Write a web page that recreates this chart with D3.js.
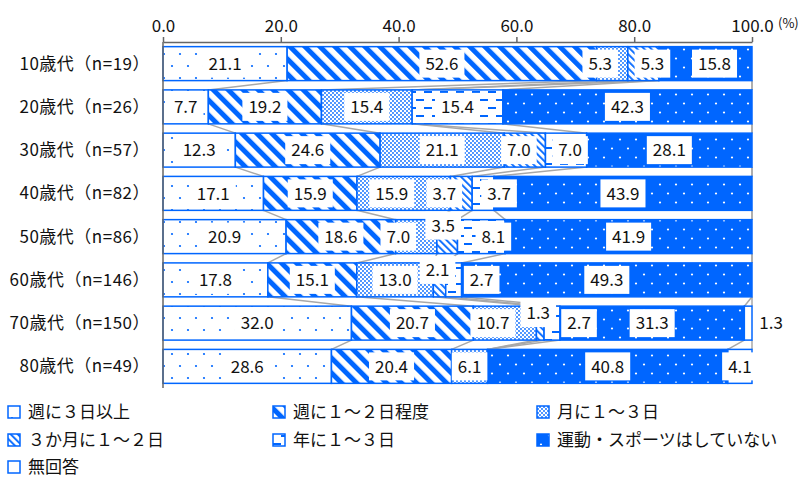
<!DOCTYPE html>
<html>
<head>
<meta charset="utf-8">
<script src="https://cdn.jsdelivr.net/npm/d3@7"></script>
<style>
body { margin: 0; background: #fff; }
text { font-family: "Noto Sans CJK JP", "Noto Sans", sans-serif; }
</style>
</head>
<body>
<svg id="chart" width="808" height="479"></svg>
<script>
// categories (age groups) and the 7 answer series, in stacking order
const categories = ['10歳代（n=19）', '20歳代（n=26）', '30歳代（n=57）', '40歳代（n=82）',
    '50歳代（n=86）', '60歳代（n=146）', '70歳代（n=150）', '80歳代（n=49）'];
const seriesNames = ['週に３日以上', '週に１～２日程度', '月に１～３日', '３か月に１～２日',
    '年に１～３日', '運動・スポーツはしていない', '無回答'];

const shukan3 = [21.1, 7.7, 12.3, 17.1, 20.9, 17.8, 32.0, 28.6];
const shukan12 = [52.6, 19.2, 24.6, 15.9, 18.6, 15.1, 20.7, 20.4];
const tsuki13 = [5.3, 15.4, 21.1, 15.9, 7.0, 13.0, 10.7, 6.1];
const sankagetsu = [5.3, 0, 7.0, 3.7, 3.5, 2.1, 1.3, 0];
const nen13 = [0, 15.4, 7.0, 3.7, 8.1, 2.7, 2.7, 0];
const shinai = [15.8, 42.3, 28.1, 43.9, 41.9, 49.3, 31.3, 40.8];
const mukaitou = [0, 0, 0, 0, 0, 0, 1.3, 4.1];

const xTicks = [0, 20, 40, 60, 80, 100];

// label nudges for crowded segments: 'row|series' -> [dx, dy]
const labelNudge = {
    '0|2': [-12, 0], '0|3': [9, 0], '0|5': [9, 0],
    '2|3': [-6, 0], '2|4': [4, 0],
    '3|2': [-12, 0], '3|3': [-17, 0], '3|4': [16, 0],
    '4|2': [-18, 0], '4|3': [-4, -11], '4|4': [12, 0],
    '5|3': [-2, -10], '5|4': [28, 0],
    '6|2': [-12, 0], '6|3': [-2, -10], '6|4': [27, 0], '6|6': [23, 0]
};

const blue = '#0066ff';
const keys = ['s0', 's1', 's2', 's3', 's4', 's5', 's6'];
const allSeries = [shukan3, shukan12, tsuki13, sankagetsu, nen13, shinai, mukaitou];

let table = categories.map(function(c, i) {
    let row = { cat: c, idx: i };
    keys.forEach(function(k, j) { row[k] = allSeries[j][i]; });
    return row;
});

// 100% stacked (rows that add to 100.1 / 100.2 get normalised)
let stacked = d3.stack().keys(keys).offset(d3.stackOffsetExpand)(table);

let svg = d3.select('#chart');

let x = d3.scaleLinear().domain([0, 100]).range([163, 752]);
let y = d3.scaleBand().domain(categories).range([42, 388])
    .paddingInner(0.215).paddingOuter(0.1075);

// ---- patterns
let defs = svg.append('defs');

function pat(id, w, h, bg) {
    let p = defs.append('pattern').attr('id', id)
        .attr('patternUnits', 'userSpaceOnUse')
        .attr('width', w).attr('height', h);
    p.append('rect').attr('width', w).attr('height', h).attr('fill', bg);
    return p;
}

// 週に３日以上 : sparse dots on white
let p0 = pat('p0', 16, 24, '#fff');
[[4, 6], [12, 18]].forEach(function(d) {
    p0.append('circle').attr('cx', d[0]).attr('cy', d[1]).attr('r', 1.1).attr('fill', blue);
});
// 週に１～２日程度 : wide diagonal stripes
let p1 = pat('p1', 10.6, 10.6, '#fff').attr('patternTransform', 'rotate(-45)');
p1.append('rect').attr('width', 5).attr('height', 10.6).attr('fill', blue);
// 月に１～３日 : dense dots
let p2 = pat('p2', 4, 4, '#fff');
[[1, 1], [3, 3]].forEach(function(d) {
    p2.append('circle').attr('cx', d[0]).attr('cy', d[1]).attr('r', 0.9).attr('fill', blue);
});
// ３か月に１～２日 : fine diagonal stripes
let p3 = pat('p3', 5, 5, '#fff').attr('patternTransform', 'rotate(-45)');
p3.append('rect').attr('width', 1.8).attr('height', 5).attr('fill', blue);
// 年に１～３日 : staggered dashes
let p4 = pat('p4', 16, 16, '#fff');
[[0, 3], [8, 11]].forEach(function(d) {
    p4.append('rect').attr('x', d[0]).attr('y', d[1]).attr('width', 8).attr('height', 2).attr('fill', blue);
});
// 運動・スポーツはしていない : white dots on blue
let p5 = pat('p5', 16, 18, blue);
[[4, 4.5], [12, 13.5]].forEach(function(d) {
    p5.append('circle').attr('cx', d[0]).attr('cy', d[1]).attr('r', 1.1).attr('fill', '#fff');
});
// 無回答 : plain white
pat('p6', 4, 4, '#fff');

// ---- connector lines between bars
let connectors = [];
for (let i = 0; i < categories.length - 1; i++) {
    stacked.forEach(function(layer) {
        connectors.push({
            x1: x(layer[i][1] * 100), y1: y(categories[i]) + y.bandwidth(),
            x2: x(layer[i + 1][1] * 100), y2: y(categories[i + 1])
        });
    });
}
svg.append('g').selectAll('line').data(connectors).join('line')
    .attr('x1', d => d.x1).attr('y1', d => d.y1)
    .attr('x2', d => d.x2).attr('y2', d => d.y2)
    .attr('stroke', '#a8a8a8').attr('stroke-width', 1.5);

// ---- bars
let layerG = svg.append('g').selectAll('g').data(stacked).join('g')
    .attr('fill', (d, j) => 'url(#p' + j + ')');

layerG.selectAll('rect')
    .data(d => d.filter(s => s[1] > s[0]))
    .join('rect')
    .attr('x', d => x(d[0] * 100))
    .attr('y', d => y(d.data.cat))
    .attr('width', d => x(d[1] * 100) - x(d[0] * 100))
    .attr('height', y.bandwidth())
    .attr('stroke', blue)
    .attr('stroke-width', 1.5);

// ---- axes
let axisG = svg.append('g').attr('transform', 'translate(0,42)')
    .call(d3.axisTop(x).tickValues(xTicks).tickFormat(d3.format('.1f'))
        .tickSize(5).tickSizeOuter(0));
axisG.select('.domain').attr('stroke', '#666').attr('stroke-width', 1.5);
axisG.selectAll('.tick line').attr('stroke', '#666').attr('stroke-width', 1.5);
axisG.selectAll('.tick text').attr('font-size', 17).attr('fill', '#111')
    .attr('font-family', '"Noto Sans CJK JP", sans-serif').attr('dy', '-0.1em');

svg.append('text').attr('x', 778).attr('y', 28).attr('font-size', 13)
    .attr('fill', '#111').text('(%)');

svg.append('line').attr('x1', 163).attr('x2', 163).attr('y1', 42).attr('y2', 388)
    .attr('stroke', '#666').attr('stroke-width', 1.5);

svg.append('g').selectAll('text').data(categories).join('text')
    .attr('x', 150)
    .attr('y', d => y(d) + y.bandwidth() / 2)
    .attr('dy', '0.35em')
    .attr('text-anchor', 'end')
    .attr('font-size', 17)
    .attr('letter-spacing', 0.5)
    .attr('fill', '#111')
    .text(d => d);

// ---- value labels with white boxes
let labels = [];
stacked.forEach(function(layer, j) {
    layer.forEach(function(s, i) {
        let v = allSeries[j][i];
        if (v <= 0) return;
        let nudge = labelNudge[i + '|' + j] || [0, 0];
        labels.push({
            v: v,
            cx: (x(s[0] * 100) + x(s[1] * 100)) / 2 + nudge[0],
            cy: y(categories[i]) + y.bandwidth() / 2 + nudge[1]
        });
    });
});

let lab = svg.append('g').selectAll('g').data(labels).join('g')
    .attr('transform', d => 'translate(' + d.cx + ',' + d.cy + ')');
let boxes = lab.append('rect').attr('fill', '#fff');
let texts = lab.append('text')
    .attr('text-anchor', 'middle')
    .attr('dy', '0.36em')
    .attr('font-size', 17)
    .attr('fill', '#111')
    .text(d => d.v.toFixed(1));
texts.each(function(d) {
    d.w = this.getComputedTextLength();
});
boxes.attr('x', d => -d.w / 2 - 6).attr('width', d => d.w + 12)
    .attr('y', -14).attr('height', 28);

// ---- legend
let legendPos = [[8, 412], [273, 412], [537, 412], [8, 440], [273, 440], [537, 440], [8, 467]];
let leg = svg.append('g').selectAll('g').data(seriesNames).join('g')
    .attr('transform', (d, j) => 'translate(' + legendPos[j][0] + ',' + legendPos[j][1] + ')');
leg.append('rect').attr('x', 0).attr('y', -6).attr('width', 12).attr('height', 12)
    .attr('fill', (d, j) => 'url(#p' + j + ')')
    .attr('stroke', blue).attr('stroke-width', 1.5);
leg.append('text').attr('x', 20).attr('dy', '0.36em')
    .attr('font-size', 17).attr('fill', '#111')
    .text(d => d);
</script>
</body>
</html>
